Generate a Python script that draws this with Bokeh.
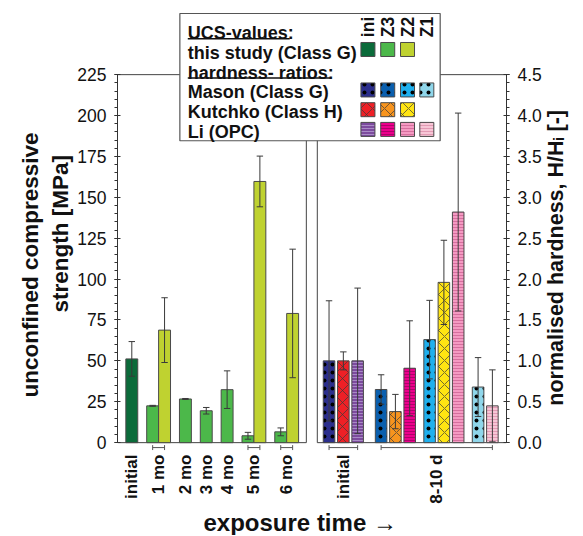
import math
from bokeh.plotting import figure
from bokeh.models import (Range1d, LinearAxis, SingleIntervalTicker, FixedTicker,
                          NumeralTickFormatter, ColumnDataSource, Title)
from bokeh.core.properties import value
from bokeh.embed import file_html
from bokeh.resources import INLINE

# ---------------- data ----------------
ucs_time = ["initial", "1 mo", "1 mo", "2 mo", "3 mo", "4 mo", "5 mo", "5 mo", "6 mo", "6 mo"]
ucs_zone = ["ini", "Z3", "Z2", "Z3", "Z3", "Z3", "Z3", "Z2", "Z3", "Z2"]
ucs_mean = [51.2, 22.5, 68.8, 26.7, 19.5, 32.4, 4.2, 159.7, 6.6, 79.0]
ucs_err = [10.6, 0.3, 19.8, 0.3, 2.0, 11.5, 2.1, 15.5, 2.4, 39.3]

hard_time = ["initial"] * 3 + ["8-10 d"] * 8
hard_zone = ["ini", "ini", "ini", "Z3", "Z3", "Z3", "Z2", "Z2", "Z2", "Z1", "Z1"]
hard_source = ["Mason", "Kutchko", "Li", "Mason", "Kutchko", "Li",
               "Mason", "Kutchko", "Li", "Mason", "Li"]
hard_mean = [1.0, 1.0, 1.0, 0.65, 0.38, 0.91, 1.26, 1.96, 2.82, 0.68, 0.45]
hard_err = [0.735, 0.11, 0.89, 0.18, 0.21, 0.58, 0.48, 0.515, 1.21, 0.36, 0.44]

zones = ["ini", "Z3", "Z2", "Z1"]
sources = ["Mason", "Kutchko", "Li"]
ucs_max = 225
hard_max = 4.5

Y_TITLE_1 = "unconfined compressive"
Y_TITLE_2 = "strength [MPa]"
R_TITLE = "normalised hardness, H/H\u1d62 [-]"
X_TITLE = "exposure time \u2192"

# ---------------- styles ----------------
FONT = "Liberation Sans"
ucs_colors = {"ini": "#0b6b3a", "Z3": "#4cb84a", "Z2": "#bfd230"}
src_colors = {
    "Mason": {"ini": "#2b2e8c", "Z3": "#0a5fae", "Z2": "#1fb0ee", "Z1": "#8fd6ea"},
    "Kutchko": {"ini": "#ee2026", "Z3": "#f7941e", "Z2": "#ffe512"},
    "Li": {"ini": "#7d4b9e", "Z3": "#ec008c", "Z2": "#f49ac2", "Z1": "#f7c6d6"},
}
li_hatch = {"ini": "#a98bc6", "Z3": "#b0006a", "Z2": "#d66f9e", "Z1": "#e29ab4"}
src_hatch = {
    "Mason": dict(hatch_pattern="dot", hatch_color="black", hatch_scale=8, hatch_weight=5),
    "Kutchko": dict(hatch_pattern="diagonal_cross", hatch_color="#3a3a3a", hatch_scale=12, hatch_weight=0.7),
    "Li": dict(hatch_pattern="horizontal_line", hatch_scale=3, hatch_weight=1),
}
OUTLINE = "#4a4a4a"
ERRC = "#3a3a3a"

# ---------------- layout (in bar-width units) ----------------
def place(keys, start, width, step, gap_fn):
    lefts = []
    for i, k in enumerate(keys):
        if i == 0:
            lefts.append(start)
        elif k == keys[i - 1]:
            lefts.append(lefts[-1] + step)
        else:
            lefts.append(lefts[-1] + width + gap_fn(keys[i - 1], k))
    return [l + width / 2 for l in lefts], lefts[-1] + width

W_L = 1.0
ucs_x, l_last = place(ucs_time, 0.7, W_L, 1.0, lambda a, b: 0.75)
L_END = l_last + 0.65
PANEL_GAP = 0.92
R0 = L_END + PANEL_GAP
W_R = 0.97
hkeys = list(zip(hard_time, hard_zone))
hx_rel, r_last = place(hkeys, 0.5, W_R, 1.2,
                       lambda a, b: 1.0 if a[0] != b[0] else 0.7)
hard_x = [R0 + v for v in hx_rel]
R_END = R0 + r_last + 0.7

# frame in canvas pixels
CW, CH = 582, 535
FRAME_L, FRAME_R, FRAME_T, FRAME_B = 117, 510, 12, 459
Y_ZERO, Y_MAX = 448, 75
PLOT_H = Y_ZERO - Y_MAX
PAD_B, PAD_T = FRAME_B - Y_ZERO, Y_MAX - FRAME_T
PPU_X = (FRAME_R - FRAME_L) / R_END
PPU_Y = PLOT_H / ucs_max

def ux(px):
    return (px - FRAME_L) / PPU_X

def uy(py):
    return (Y_ZERO - py) / PPU_Y

p = figure(width=CW, height=CH, output_backend="svg", toolbar_location=None,
           x_range=Range1d(0, R_END),
           y_range=Range1d(-ucs_max * PAD_B / PLOT_H, ucs_max * (1 + PAD_T / PLOT_H)),
           min_border_left=FRAME_L, min_border_right=CW - FRAME_R,
           min_border_top=FRAME_T, min_border_bottom=CH - FRAME_B)
p.extra_y_ranges = {"hard": Range1d(-hard_max * PAD_B / PLOT_H, hard_max * (1 + PAD_T / PLOT_H))}
p.outline_line_color = None
p.xgrid.visible = False
p.ygrid.visible = False
p.background_fill_color = "white"
p.border_fill_color = "white"

# ---- axes ----
ly = p.yaxis[0]
ly.ticker = SingleIntervalTicker(interval=25, num_minor_ticks=5)
ly.bounds = (0, ucs_max)
ry = LinearAxis(y_range_name="hard", ticker=SingleIntervalTicker(interval=0.5, num_minor_ticks=5),
                formatter=NumeralTickFormatter(format="0.0"), bounds=(0, hard_max))
p.add_layout(ry, "right")
for ax in (ly, ry):
    ax.axis_line_color = "#333333"
    ax.axis_line_width = 1
    ax.major_tick_in = 3
    ax.major_tick_out = 3
    ax.minor_tick_in = 0
    ax.minor_tick_out = 3
    ax.major_tick_line_color = "#333333"
    ax.minor_tick_line_color = "#333333"
    ax.major_label_text_font = FONT
    ax.major_label_text_font_size = "17.5px"
    ax.major_label_text_color = "#111111"
    ax.major_label_standoff = 8

# x-axis: group labels
groups = []
for t, xs in ((ucs_time, ucs_x), (hard_time, hard_x)):
    for i, name in enumerate(t):
        if i == 0 or name != t[i - 1]:
            groups.append([name, xs[i], xs[i]])
        else:
            groups[-1][2] = xs[i]
tick_pos = [round((g[1] + g[2]) / 2, 4) for g in groups]
xa = p.xaxis[0]
xa.ticker = FixedTicker(ticks=tick_pos)
xa.major_label_overrides = {tp: g[0] for tp, g in zip(tick_pos, groups)}
xa.major_label_orientation = math.pi / 2
xa.axis_line_color = None
xa.major_tick_line_color = None
xa.minor_tick_line_color = None
xa.major_tick_out = 0
xa.major_tick_in = 0
xa.minor_tick_out = 0
xa.major_label_standoff = 1
xa.major_label_text_font = FONT
xa.major_label_text_font_style = "bold"
xa.major_label_text_font_size = "17px"
xa.major_label_text_color = "#111111"

# brackets under grouped bars
bx0 = [g[1] for g in groups if g[2] > g[1]]
bx1 = [g[2] for g in groups if g[2] > g[1]]
byv = uy(453)
p.segment(x0=bx0, x1=bx1, y0=[byv] * len(bx0), y1=[byv] * len(bx0), line_color="#555555", line_width=1)
p.segment(x0=bx0 + bx1, x1=bx0 + bx1, y0=[uy(450.5)] * (2 * len(bx0)), y1=[uy(455.5)] * (2 * len(bx0)),
          line_color="#555555", line_width=1)

# ---- panel frames ----
p.segment(x0=[0, 0, L_END], x1=[L_END, L_END, L_END], y0=[0, ucs_max, 0], y1=[0, ucs_max, ucs_max],
          line_color="#444444", line_width=1)
p.segment(x0=[R0, R0, R0], x1=[R_END, R_END, R0], y0=[0, hard_max, 0], y1=[0, hard_max, hard_max],
          line_color="#444444", line_width=1, y_range_name="hard")

# ---- UCS bars ----
usrc = ColumnDataSource(dict(x=ucs_x, top=ucs_mean, color=[ucs_colors[z] for z in ucs_zone]))
p.vbar(x="x", top="top", bottom=0, width=W_L, source=usrc, fill_color="color",
       line_color=OUTLINE, line_width=1)
ecap = 0.27
u_lo = [m - e for m, e in zip(ucs_mean, ucs_err)]
u_hi = [m + e for m, e in zip(ucs_mean, ucs_err)]
p.segment(x0=ucs_x, x1=ucs_x, y0=u_lo, y1=u_hi, line_color=ERRC, line_width=1)
p.segment(x0=[x - ecap for x in ucs_x] * 2, x1=[x + ecap for x in ucs_x] * 2,
          y0=u_lo + u_hi, y1=u_lo + u_hi, line_color=ERRC, line_width=1)

# ---- hardness bars ----
for s in sources:
    idx = [i for i, v in enumerate(hard_source) if v == s]
    d = dict(x=[hard_x[i] for i in idx], top=[hard_mean[i] for i in idx],
             color=[src_colors[s][hard_zone[i]] for i in idx])
    kw = dict(src_hatch[s])
    if s == "Li":
        d["hc"] = [li_hatch[hard_zone[i]] for i in idx]
        kw["hatch_color"] = "hc"
    p.vbar(x="x", top="top", bottom=0, width=W_R, source=ColumnDataSource(d),
           fill_color="color", line_color=OUTLINE, line_width=1, y_range_name="hard", **kw)
lo = [m - e for m, e in zip(hard_mean, hard_err)]
hi = [m + e for m, e in zip(hard_mean, hard_err)]
p.segment(x0=hard_x, x1=hard_x, y0=lo, y1=hi, line_color=ERRC, line_width=1, y_range_name="hard")
p.segment(x0=[x - ecap for x in hard_x] * 2, x1=[x + ecap for x in hard_x] * 2,
          y0=lo + hi, y1=lo + hi, line_color=ERRC, line_width=1, y_range_name="hard")

# ---- legend ----
p.quad(left=[ux(180)], right=[ux(443)], top=[uy(13)], bottom=[uy(142)],
       fill_color="white", line_color="#555555", line_width=1.2)
leg_text = ["UCS-values:", "this study (Class G)", "hardness- ratios:",
            "Mason (Class G)", "Kutchko (Class H)", "Li (OPC)"]
base_y = [36.5, 56.5, 76.5, 96.5, 116.5, 136.5]
BASE_FIX = 3.5
p.text(x=[ux(188)] * 6, y=[uy(b - BASE_FIX) for b in base_y], text=leg_text,
       text_font=value(FONT), text_font_style="bold", text_font_size="18px",
       text_color="#111111", text_baseline="alphabetic", text_align="left")
p.segment(x0=[ux(188), ux(188)], x1=[ux(291), ux(332)], y0=[uy(38.5), uy(78.5)], y1=[uy(38.5), uy(78.5)],
          line_color="#111111", line_width=1.5)
col_x = [370, 390, 410, 429.5]
p.text(x=[ux(c) for c in col_x], y=[uy(37)] * 4, text=zones, angle=math.pi / 2,
       text_font=value(FONT), text_font_style="bold", text_font_size="17.5px",
       text_color="#111111", text_baseline="middle", text_align="left")
row_y = {"ucs": 49.5, "Mason": 90.5, "Kutchko": 110.5, "Li": 130.5}
sw_x = [ux(col_x[zones.index(z)]) for z in ucs_colors]
p.rect(x=sw_x, y=[uy(row_y["ucs"])] * len(sw_x), width=14, height=14,
       width_units="screen", height_units="screen",
       fill_color=list(ucs_colors.values()), line_color=OUTLINE, line_width=1)
for s in sources:
    zs = list(src_colors[s].keys())
    d = dict(x=[ux(col_x[zones.index(z)]) for z in zs], y=[uy(row_y[s])] * len(zs),
             color=[src_colors[s][z] for z in zs])
    kw = dict(src_hatch[s])
    if s == "Li":
        d["hc"] = [li_hatch[z] for z in zs]
        kw["hatch_color"] = "hc"
    p.rect(x="x", y="y", width=14, height=14, width_units="screen", height_units="screen",
           source=ColumnDataSource(d), fill_color="color", line_color=OUTLINE, line_width=1, **kw)

# ---- titles ----
tk = dict(text_font=FONT, text_font_style="bold", text_font_size="22.5px", text_color="#111111")
p.add_layout(Title(text=Y_TITLE_2, align="left", offset=FRAME_B - 318, standoff=4, **tk), "left")
p.add_layout(Title(text=Y_TITLE_1, align="left", offset=FRAME_B - 403, standoff=2, **tk), "left")
p.add_layout(Title(text=X_TITLE, align="left", offset=203 - FRAME_L, standoff=0,
                   text_font=FONT, text_font_style="bold", text_font_size="24px",
                   text_color="#111111"), "below")

# right title: upward-reading axis label starting near the bottom of the axis
props = LinearAxis.properties()
r_text = R_TITLE
if "axis_label_align" in props:
    ry.axis_label_align = "start"
    r_text = "\u00a0" * 8 + R_TITLE
ry.axis_label = r_text
ry.axis_label_orientation = math.pi / 2
ry.axis_label_standoff = 11
ry.axis_label_text_font = FONT
ry.axis_label_text_font_style = "bold"
ry.axis_label_text_font_size = "21.5px"
ry.axis_label_text_color = "#111111"

open("out.html", "w").write(file_html(p, INLINE))
